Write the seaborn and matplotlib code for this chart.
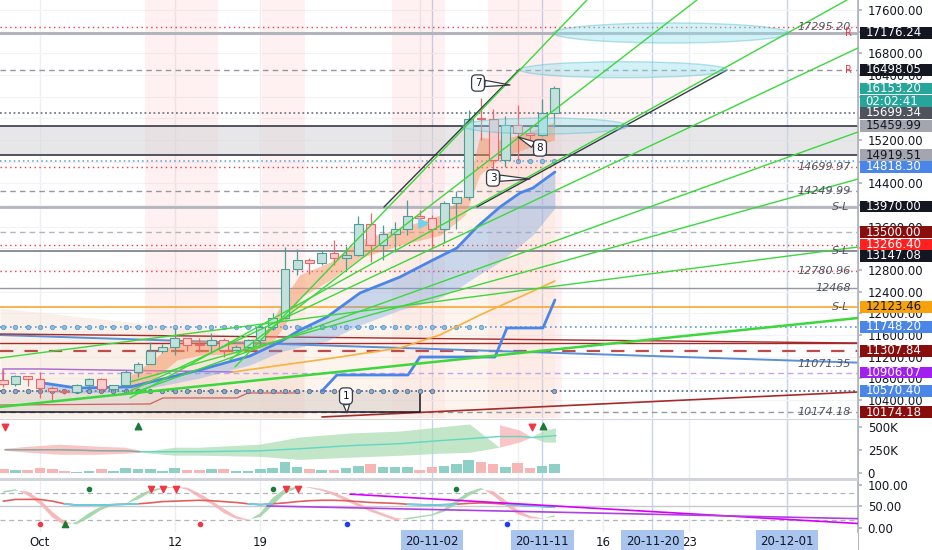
import numpy as np
import pandas as pd
import matplotlib
matplotlib.use("Agg")
from matplotlib import pyplot as plt
from matplotlib import transforms
from matplotlib.patches import Ellipse, Polygon, Rectangle
import seaborn as sns

# x values are day numbers counted from 2020-10-01 (= day 0)
days = list(range(-3, 43))
opens = [10775, 10700, 10840, 10785, 10620, 10575, 10550, 10670, 10790, 10600, 10670, 10920,
         11060, 11300, 11380, 11540, 11425, 11415, 11500, 11320, 11370, 11510, 11750, 11920,
         12820, 12990, 12930, 13120, 13030, 13070, 13650, 13270, 13460, 13560, 13800, 13760,
         13560, 14030, 14150, 15590, 15580, 14830, 15480, 15330, 15300, 15700]
highs = [10950, 10865, 10850, 10920, 10660, 10600, 10690, 10800, 10800, 10680, 10950, 11100,
         11480, 11430, 11730, 11550, 11550, 11630, 11540, 11420, 11520, 11800, 12000, 13220,
         13180, 13030, 13170, 13350, 13250, 13790, 13860, 13640, 13690, 14100, 13900, 13820,
         14070, 14250, 15750, 15970, 15770, 15650, 15850, 15460, 15950, 16200]
lows = [10635, 10650, 10660, 10430, 10380, 10520, 10530, 10630, 10530, 10560, 10530, 10830,
        11060, 11270, 11230, 11300, 11280, 11270, 11200, 11300, 11350, 11420, 11700, 11900,
        12700, 12730, 12900, 12900, 12780, 13060, 12950, 12990, 13130, 13440, 13620, 13200,
        13300, 13550, 14100, 15200, 14350, 14700, 14810, 15090, 15280, 15440]
closes = [10700, 10840, 10785, 10620, 10575, 10550, 10670, 10790, 10600, 10670, 10920, 11060,
          11300, 11380, 11540, 11420, 11415, 11500, 11320, 11370, 11510, 11750, 11920, 12820,
          12990, 12930, 13120, 13030, 13070, 13650, 13270, 13460, 13560, 13800, 13760, 13560,
          14030, 14150, 15590, 15580, 14830, 15480, 15330, 15300, 15700, 16153.20]
volume_k = [47, 36, 36, 61, 47, 22, 18, 29, 47, 29, 54, 47, 43, 25, 54, 36, 36, 47, 47, 22, 22,
            47, 61, 120, 72, 47, 36, 36, 61, 83, 98, 72, 65, 65, 36, 65, 80, 101, 145, 126, 101,
            65, 109, 61, 80, 98]

# horizontal levels drawn across the chart
level_prices = [17295.20, 17176.24, 16498.05, 15699.34, 15459.99, 14919.51, 14818.30, 14699.97,
                14249.99, 13970.00, 13500.00, 13266.40, 13147.08, 12780.96, 12468.00, 12123.46,
                11748.20, 11453.00, 11307.84, 10906.07, 10570.40, 10174.18]
RD, GR, DK, BL = "#f23645", "#9598a1", "#363a45", "#5b9bd5"
level_styles = [(RD, (0, (1, 2.5)), 1.0), ("#b2b5be", "-", 2.2), (GR, (0, (4, 3)), 1.0),
                ("#787b86", (0, (1, 1.5)), 1.3), (DK, "-", 1.2), (DK, "-", 1.2),
                (BL, (0, (1, 2)), 1.1), (RD, (0, (1, 2.5)), 1.0), (GR, (0, (4, 3)), 1.0),
                ("#b2b5be", "-", 2.0), ("#b2b5be", (0, (4, 3)), 1.0), (RD, (0, (1, 2.5)), 1.0),
                ("#787b86", "-", 1.2), (RD, (0, (1, 2.5)), 1.0), (GR, "-", 1.0),
                ("#f7a733", "-", 1.2), (BL, (0, (1, 2)), 1.2), ("#a52a2a", "-", 1.0),
                ("#c04b4b", (0, (6, 5)), 1.6), ("#c7a0f0", (0, (4, 3)), 1.0),
                ("#5b6f8f", (0, (1, 1.5)), 1.3), (GR, (0, (4, 3)), 1.0)]

# price-scale tags
tag_text = ["17176.24", "16498.05", "16153.20", "02:02:41", "15699.34", "15459.99", "14919.51",
            "14818.30", "13970.00", "13500.00", "13266.40", "13147.08", "12123.46", "11748.20",
            "11307.84", "10906.07", "10570.40", "10174.18"]
tag_pos = [17176.24, 16498.05, 16153.20, 15920, 15699.34, 15459.99, 14919.51, 14702, 13970.00,
           13500.00, 13266.40, 13059, 12123.46, 11748.20, 11307.84, 10906.07, 10570.40, 10174.18]
tag_colors = [("#131722", "white"), ("#131722", "white"), ("#26a69a", "white"), ("#26a69a", "white"),
              ("#50535e", "white"), ("#a3a6af", "#131722"), ("#a3a6af", "#131722"),
              ("#4a86e8", "white"), ("#131722", "white"), ("#880e0e", "white"), ("#ff2020", "white"),
              ("#131722", "white"), ("#f7a20c", "#131722"), ("#4a86e8", "white"),
              ("#880e0e", "white"), ("#a020f0", "white"), ("#4a86e8", "white"), ("#880e0e", "white")]

# price ticks; the ones fully covered by tags are left blank
price_ticks = list(range(10400, 17601, 400))
hidden_ticks = [17200, 16000, 15600, 14800, 14000, 13200]

italic_labels = ["17295.20", "14699.97", "14249.99", "12780.96", "12468", "11071.35", "10174.18"]
italic_pos = [17295.20, 14699.97, 14249.99, 12780.96, 12468, 11071.35, 10174.18]
sl_pos = [13970.00, 13147.08, 12123.46]
r_pos = [17176.24, 16498.05]

# trend / fan lines (start day, start price, end day, end price)
fan_d0 = [15.92, 15.51, 7.35, 7.35, 7.35, 7.35, -3.27, -3.27]
fan_p0 = [11010, 11139, 10438, 10567, 10511, 10733, 11176, 10272]
fan_d1 = [44.65, 53.63, 65.88, 66.78, 66.78, 66.78, 66.78, 66.78]
fan_p1 = [17785, 17785, 17785, 16899, 15348, 14480, 13225, 11914]

# moving average line and its band
ema_days = [0.24, 3.0, 7.35, 13.06, 17.14, 19.59, 21.22, 23.43, 26.12, 29.39, 32.08, 34.04,
            35.67, 37.55, 39.18, 40.24, 42.04]
ema_vals = [10714, 10622, 10641, 10955, 11213, 11471, 11693, 11933, 12376, 12671, 12985, 13207,
            13594, 13963, 14222, 14314, 14610]
ema_low = [10548, 10530, 10548, 10807, 11047, 11287, 11379, 11490, 11785, 12062, 12230, 12450,
           12690, 12950, 13250, 13450, 13945]

# salmon ribbon around price
rib_days = [7.4, 9.0, 11.2, 13.1, 15.5, 17.6, 18.8, 20.0, 21.2, 23.7, 26.1, 29.4, 32.7, 34.7,
            35.9, 37.6, 40.0, 42.0]
rib_top = [10860, 11100, 11510, 11510, 11470, 11545, 11785, 12300, 12710, 12950, 13355, 13575,
           13815, 14185, 15255, 15200, 15350, 15535]
rib_bot = [10550, 10735, 11140, 11230, 11250, 11325, 11415, 11785, 12285, 12615, 13020, 13260,
           13445, 13815, 14555, 14870, 15070, 15200]

orange_days = [15.76, 23.92, 29.39, 32.65, 35.92, 39.18, 42.04]
orange_vals = [10918, 11176, 11361, 11601, 11970, 12302, 12597]

step_days = [23.02, 24.24, 30.04, 31.02, 37.14, 38.12, 41.06, 42.04]
step_vals = [10567, 10862, 10862, 11194, 11194, 11730, 11730, 12247]

redstep_days = [-3.27, 8.98, 10.04, 16.08, 16.98, 21.22]
redstep_vals = [10308, 10327, 10438, 10438, 10530, 10530]

# ellipses: centre day, centre price, width (days), height (price)
ell_cx = [51.5, 47.65, 41.25]
ell_cy = [17176, 16498, 15460]
ell_w = [19.2, 16.9, 13.5]
ell_h = [370, 295, 295]

# channel drawing corners
quad_days = [28.08, 39.18, 56.08, 35.67]
quad_prices = [13963, 16511, 16492, 13963]

callout_text = ["7", "8", "3", "1"]
callout_box = [(35.76, 16252), (40.82, 15053), (36.98, 14499), (24.98, 10474)]
callout_tip = [(38.37, 16216), (39.02, 15256), (40.0, 14480), (25.06, 10161)]

band_start = [8.6, 18.1, 28.7, 36.6]
band_end = [14.5, 21.6, 33.1, 42.6]

# volume cloud
cloud_days = [-2.86, -0.82, 1.63, 4.9, 6.94, 8.16, 11.02, 13.06, 17.96, 21.22, 25.31, 29.39,
              32.65, 35.1, 37.55, 39.18, 40.16, 41.22, 42.12]
cloud_mid = [253, 253, 253, 242, 242, 232, 232, 232, 242, 264, 297, 318, 351, 372, 395, 395,
             384, 395, 405]
cloud_half = [11, 33, 54, 43, 33, 11, 43, 43, 65, 120, 130, 130, 141, 152, 120, 65, 0, 65, 76]

# oscillator
osc_k = [85, 89, 75, 55, 25, 7, 15, 35, 50, 56, 56, 75, 88, 93, 95, 88, 70, 55, 35, 22, 18, 35,
         70, 90, 95, 92, 86, 75, 62, 50, 38, 28, 18, 24, 28, 32, 45, 65, 83, 92, 75, 52, 32, 23,
         22, 30]
osc_d = [81, 86, 84, 66, 38, 16, 9, 24, 42, 53, 56, 66, 82, 90, 94, 93, 80, 63, 45, 28, 20, 26,
         52, 80, 92, 94, 90, 82, 70, 57, 45, 34, 24, 20, 25, 29, 38, 55, 74, 88, 85, 64, 42, 28,
         23, 26]
osc_slow = [62, 66, 66, 66, 62, 56, 53, 53, 53, 54, 55, 56, 58, 61, 62, 63, 64, 63, 61, 59, 56,
            54, 56, 58, 61, 63, 64, 64, 63, 61, 59, 58, 57, 55, 54, 53, 54, 55, 57, 58, 57, 55,
            53, 51, 50, 48]
osc_trend_d = [[25.31, 66.78], [18.53, 66.78]]
osc_trend_v = [[78, 11], [51, 22]]

grid_days = [0, 11, 18, 31, 39, 46, 53, 61]
grid_labels = ["Oct", "12", "19", "", "", "16", "23", ""]
mark_days = [32, 41, 50, 61]
mark_labels = ["20-11-02", "20-11-11", "20-11-20", "20-12-01"]

sns.set_theme(style="white")
plt.rcParams["font.family"] = ["DejaVu Sans"]

W = 858 / 932
fig = plt.figure(figsize=(9.32, 5.5), dpi=100)
ax = fig.add_axes([0, 1 - 418 / 550, W, 418 / 550])
axv = fig.add_axes([0, 1 - 478 / 550, W, 58 / 550], sharex=ax)
axo = fig.add_axes([0, 1 - 532 / 550, W, 51 / 550], sharex=ax)

XMIN, XMAX = -3.265, 66.78
ax.set_xlim(XMIN, XMAX)
ax.set_ylim(10068, 17785)
axv.set_ylim(-50, 572)
axo.set_ylim(-8.4, 108)

for a in (ax, axv, axo):
    a.set_facecolor("white")
    for s in ("top", "left", "bottom"):
        a.spines[s].set_visible(False)
    a.spines["right"].set_color("#b2b5be")
    a.yaxis.tick_right()
    a.tick_params(axis="y", labelsize=8.5, labelcolor="#131722", length=3, color="#b2b5be", pad=4)
    a.tick_params(axis="x", labelsize=8.5, labelcolor="#131722", length=0, pad=3)
    for gd in grid_days:
        a.axvline(gd, color="#eceef2", lw=1, zorder=0)
    for md in mark_days:
        a.axvline(md, color="#c3d3f2", lw=1, zorder=0)
ax.tick_params(labelbottom=False)
axv.tick_params(labelbottom=False)

# ---- main price panel ----
ax.set_yticks(price_ticks)
ax.set_yticklabels(["" if t in hidden_ticks else f"{t:.2f}" for t in price_ticks])
for t in price_ticks:
    ax.axhline(t, color="#f2f3f6", lw=0.8, zorder=0)

for b0, b1 in zip(band_start, band_end):
    ax.axvspan(b0, b1, color="#ff5252", alpha=0.08, lw=0, zorder=0)

ax.fill_between([-3.27, 7.35, 13.06, 19.59, 21.5], [12099, 11841, 11693, 11416, 11300], 10068,
                color="#f3e1cf", alpha=0.45, lw=0, zorder=0.5)
ax.fill_between(rib_days, rib_bot, 10068, color="#fbe1cf", alpha=0.35, lw=0, zorder=0.5)

ax.axhspan(14919.51, 15459.99, color="#d5d5d8", alpha=0.55, lw=0, zorder=0.6)
ax.add_patch(Rectangle((XMIN, 10174.18), 31.0 - XMIN, 10570.40 - 10174.18, fc="#d9cfc9",
                       alpha=0.55, ec="none", zorder=0.6))
ax.plot([XMIN, 31.0, 31.0], [10174.18, 10174.18, 10570.40], color="#131722", lw=1.1, zorder=3)

for p, (c, ls, lw) in zip(level_prices, level_styles):
    ax.axhline(p, color=c, linestyle=ls, linewidth=lw, zorder=2)

ax.plot([XMIN, XMAX], [11600, 11090], color="#5b8fd6", lw=1.4, zorder=2)
ax.plot([XMIN, XMAX], [11619, 11453], color="#a52a2a", lw=1.0, zorder=2)
ax.plot([23.02, XMAX], [10087, 10548], color="#a52a2a", lw=1.2, zorder=2)
ax.plot([-3.02, -3.02, 0, 15.76], [10733, 10973, 10973, 10918], color="#b070d0", lw=1.1, zorder=2)
sns.lineplot(x=redstep_days, y=redstep_vals, ax=ax, color="#d06060", lw=0.9,
             estimator=None, sort=False, zorder=2)

# dotted levels with circle markers
dots_mid = [d for d in days if d <= 36]
ax.scatter(dots_mid, [11748.20] * len(dots_mid), s=10, color="#8fbfd8", edgecolors="#5b9bd5",
           linewidths=0.6, zorder=3)
dots_low = [d for d in days if d <= 32] + [42]
ax.scatter(dots_low, [10570.40] * len(dots_low), s=10, color="#8ea9c4", edgecolors="#5b6f8f",
           linewidths=0.6, zorder=3)
ax.scatter([39, 40, 41, 42], [14818.30] * 4, s=10, color="#8fbfd8", edgecolors="#5b9bd5",
           linewidths=0.6, zorder=3)

# moving averages
ax.fill_between(ema_days, ema_low, ema_vals, color="#6d9ee0", alpha=0.35, lw=0, zorder=2)
ax.fill_between(rib_days, rib_bot, rib_top, color="#f4935f", alpha=0.5, lw=0, zorder=2)
sns.lineplot(x=ema_days, y=ema_vals, ax=ax, color="#4a86e8", lw=2.0, estimator=None, zorder=3)
sns.lineplot(x=orange_days, y=orange_vals, ax=ax, color="#f7b13c", lw=1.2, estimator=None, zorder=3)
sns.lineplot(x=step_days, y=step_vals, ax=ax, color="#4a86e8", lw=2.0, estimator=None,
             sort=False, zorder=3)

# candles
for d, o, h, l, c in zip(days, opens, highs, lows, closes):
    up = c >= o
    fc, ec = ("#c3e0db", "#4f9d94") if up else ("#f7cdcd", "#e8686a")
    ax.vlines(d, l, h, color=ec, lw=0.9, zorder=4)
    ax.bar(d, max(abs(c - o), 18), bottom=min(o, c), width=0.72, color=fc, edgecolor=ec,
           linewidth=0.8, zorder=5)

# channel, ellipses and fan lines
ax.add_patch(Polygon(list(zip(quad_days, quad_prices)), closed=True, fc="#f4a0a0", alpha=0.08,
                     ec="none", zorder=1))
ax.plot(quad_days[:2], quad_prices[:2], color="#363a45", lw=1.0, zorder=6)
ax.plot([quad_days[3], quad_days[2]], [quad_prices[3], quad_prices[2]], color="#363a45",
        lw=1.0, zorder=6)
for cx, cy, w, h in zip(ell_cx, ell_cy, ell_w, ell_h):
    ax.add_patch(Ellipse((cx, cy), w, h, fc="#8fe0ec", alpha=0.4, ec="#4fb8cc", lw=1, zorder=6))
for i, (d0, p0, d1, p1) in enumerate(zip(fan_d0, fan_p0, fan_d1, fan_p1)):
    ax.plot([d0, d1], [p0, p1], color="#3bd83b", lw=1.8 if i == 7 else 1.0, zorder=7)
ax.scatter([31.27], [13668], marker=">", s=45, color="#6fd3e8", zorder=7)

for t, bx, tip in zip(callout_text, callout_box, callout_tip):
    ax.annotate(t, xy=tip, xytext=bx, fontsize=7.5, color="#131722", ha="center", va="center",
                zorder=9, bbox=dict(boxstyle="round,pad=0.3,rounding_size=0.4", fc="white",
                                    ec="#363a45", lw=0.9),
                arrowprops=dict(arrowstyle="wedge,tail_width=0.6", fc="white", ec="#363a45",
                                lw=0.9, shrinkA=0, shrinkB=0))

trans_r = transforms.blended_transform_factory(ax.transAxes, ax.transData)
for txt, p in zip(italic_labels, italic_pos):
    ax.text(0.992, p, txt, transform=trans_r, ha="right", va="center", fontsize=8,
            style="italic", color="#50535e", zorder=8)
for p in sl_pos:
    ax.text(0.99, p, "S-L", transform=trans_r, ha="right", va="center", fontsize=8,
            style="italic", color="#50535e", zorder=8)
for p in r_pos:
    ax.text(0.993, p, "R", transform=trans_r, ha="right", va="center", fontsize=7,
            color=RD, zorder=8)

for txt, p, (fc, tc) in zip(tag_text, tag_pos, tag_colors):
    ax.add_patch(Rectangle((1.002, p - 108), 0.09, 216, transform=trans_r, fc=fc, ec="none",
                           clip_on=False, zorder=20))
    ax.text(1.009, p, txt, transform=trans_r, ha="left", va="center", fontsize=8.5, color=tc,
            clip_on=False, zorder=21)

# ---- volume panel ----
vcol = ["#8fd0c6" if c >= o else "#f6b6b6" for o, c in zip(opens, closes)]
axv.bar(days, volume_k, width=0.86, color=vcol, lw=0, zorder=2)
mid = np.array(cloud_mid)
half = np.array(cloud_half)
pink = [(d <= 8.2) or (37.5 <= d <= 40.2) for d in cloud_days]
green = [not p for p in pink]
axv.fill_between(cloud_days, mid - half, mid + half, where=pink, interpolate=True,
                 color="#f8b4b4", alpha=0.75, lw=0, zorder=1)
axv.fill_between(cloud_days, mid - half, mid + half, where=green, interpolate=True,
                 color="#a8dcb0", alpha=0.7, lw=0, zorder=1)
sns.lineplot(x=cloud_days, y=cloud_mid, ax=axv, color="#62d6c6", lw=1.0, estimator=None, zorder=3)
axv.plot(cloud_days[:6], cloud_mid[:6], color="#a0a0a0", lw=1.0, zorder=3)
axv.scatter([-2.86, 40.16], [500, 500], marker="v", s=22, color=RD, zorder=4)
axv.scatter([8.0, 41.06], [505, 505], marker="^", s=22, color="#1b7a34", zorder=4)
axv.set_yticks([0, 250, 500])
axv.set_yticklabels(["0", "250K", "500K"])

# ---- oscillator panel ----
axo.axhline(80, color="#b2b5be", ls=(0, (4, 3)), lw=0.9, zorder=1)
axo.axhline(20, color="#b2b5be", ls=(0, (4, 3)), lw=0.9, zorder=1)
axo.axhline(50, color="#c8cad0", lw=1.0, zorder=1)
k = np.array(osc_k)
dd = np.array(osc_d)
axo.fill_between(days, k, dd, where=k >= dd, interpolate=True, color="#9fd4a4", alpha=0.9,
                 lw=0, zorder=2)
axo.fill_between(days, k, dd, where=k < dd, interpolate=True, color="#f6b3b3", alpha=0.9,
                 lw=0, zorder=2)
slow = np.array(osc_slow, dtype=float)
sns.lineplot(x=days, y=osc_slow, ax=axo, color="#e06060", lw=1.2, estimator=None, zorder=3)
axo.plot(days, np.where(slow <= 56, slow, np.nan), color="#58d8e8", lw=1.2, zorder=3)
for td, tv, col in zip(osc_trend_d, osc_trend_v, ["#d500f9", "#b040e0"]):
    axo.plot(td, tv, color=col, lw=1.2, zorder=4)
axo.scatter([4.0, 19.0, 34.0], [90, 90, 90], s=9, color="#1b7a34", zorder=5)
axo.scatter([9.06, 10.04, 11.1, 20.08, 21.06], [90] * 5, marker="v", s=20, color=RD, zorder=5)
axo.scatter([0, 13.06], [9, 9], s=9, color=RD, zorder=5)
axo.scatter([2.04], [9], marker="^", s=20, color="#1b7a34", zorder=5)
axo.scatter([25.06, 38.12], [9, 9], s=9, color="#1e3cff", zorder=5)
axo.set_yticks([0, 50, 100])
axo.set_yticklabels(["0.00", "50.00", "100.00"])
axo.set_xticks(grid_days)
axo.set_xticklabels(grid_labels)

trans_b = transforms.blended_transform_factory(axo.transData, axo.transAxes)
for md, ml in zip(mark_days, mark_labels):
    axo.text(md, -0.18, ml, transform=trans_b, ha="center", va="center", fontsize=8.5,
             color="#131722", clip_on=False, zorder=30,
             bbox=dict(boxstyle="square,pad=0.38", fc="#a9c4ef", ec="none"))

# panel separators
fig.patches.append(Rectangle((0, 1 - 420 / 550), W, 1.2 / 550, transform=fig.transFigure,
                             fc="#d1d4dc", ec="none"))
fig.patches.append(Rectangle((0, 1 - 481 / 550), W, 3 / 550, transform=fig.transFigure,
                             fc="#d1d4dc", ec="none"))
fig.patches.append(Rectangle((W, 0), 1 / 932, 1, transform=fig.transFigure,
                             fc="#b2b5be", ec="none"))

for a in (ax, axv, axo):
    a.set_xlabel("")
    a.set_ylabel("")

fig.savefig("out.png", dpi=100, facecolor="white")
